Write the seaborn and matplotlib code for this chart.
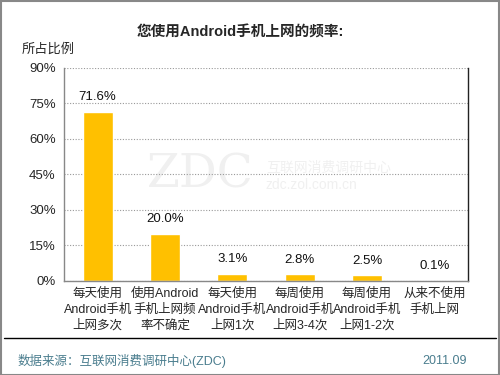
import matplotlib
matplotlib.use("Agg")
import matplotlib.pyplot as plt
import seaborn as sns
import pandas as pd
from matplotlib.patches import Rectangle
from matplotlib.lines import Line2D
from matplotlib.ticker import FixedLocator

# data
categories = ["每天使用\nAndroid手机\n上网多次", "使用Android\n手机上网频\n率不确定", "每天使用\nAndroid手机\n上网1次",
              "每周使用\nAndroid手机\n上网3-4次", "每周使用\nAndroid手机\n上网1-2次", "从来不使用\n手机上网\n "]
values = [71.6, 20.0, 3.1, 2.8, 2.5, 0.1]
yticks = [0, 15, 30, 45, 60, 75, 90]

df = pd.DataFrame({"cat": categories, "val": values})

sns.set_style("white")
plt.rcParams["font.family"] = ["Liberation Sans", "Noto Sans CJK SC", "DejaVu Sans"]

fig = plt.figure(figsize=(5, 3.75), dpi=100)
ax = fig.add_axes([0.128, 0.2507, 0.808, 0.568])

sns.barplot(data=df, x="cat", y="val", color="#FFC000", saturation=1, width=0.45, ax=ax)

ax.set_ylim(0, 90)
ax.set_xlim(-0.5, len(categories) - 0.5)
ax.set_yticks(yticks)
ax.set_yticklabels([f"{t}%" for t in yticks], fontsize=9.5)
ax.tick_params(axis="y", length=2, color="#888888", pad=4)
ax.yaxis.grid(True, linestyle=(0, (1, 1.5)), color="#999999", linewidth=0.8)
ax.set_axisbelow(True)

ax.set_xticks(range(len(categories)))
ax.set_xticklabels(categories, fontsize=9, linespacing=1.4)
ax.tick_params(axis="x", which="major", length=0, pad=5)
ax.xaxis.set_minor_locator(FixedLocator([i + 0.5 for i in range(-1, len(categories))]))
ax.tick_params(axis="x", which="minor", length=4, color="#888888", direction="out")
ax.set_xlabel("")
ax.set_ylabel("")

for s in ["left", "bottom"]:
    ax.spines[s].set_color("#888888")
    ax.spines[s].set_linewidth(1)
ax.spines["right"].set_color("#222222")
ax.spines["right"].set_linewidth(1)
ax.spines["top"].set_visible(False)

for i, v in enumerate(values):
    ax.annotate(f"{v:.1f}%", (i, v), xytext=(0, 6), textcoords="offset points",
                ha="center", va="bottom", fontsize=9.5, color="#111111")

# faint watermark
ax.text(0.47, 0.5, "ZDC", transform=ax.transAxes, fontsize=34, color="#f0f0f0",
        ha="right", va="center", family="DejaVu Serif", zorder=0)
ax.text(0.5, 0.53, "互联网消费调研中心", transform=ax.transAxes, fontsize=10, color="#f0f0f0",
        ha="left", va="center", zorder=0)
ax.text(0.5, 0.45, "zdc.zol.com.cn", transform=ax.transAxes, fontsize=10, color="#f0f0f0",
        ha="left", va="center", zorder=0)

fig.text(0.48, 0.912, "您使用Android手机上网的频率:", ha="center", va="center",
         fontsize=10.5, fontweight="bold")
fig.text(0.044, 0.867, "所占比例", ha="left", va="center", fontsize=9.5)

fig.add_artist(Line2D([0.008, 0.992], [1 - 338 / 375] * 2, transform=fig.transFigure,
                      color="black", linewidth=1))
fig.text(0.036, 1 - 361 / 375, "数据来源：互联网消费调研中心(ZDC)", ha="left", va="center",
         fontsize=9, color="#4a7d8e")
fig.text(0.934, 1 - 361 / 375, "2011.09", ha="right", va="center", fontsize=9, color="#4a7d8e")

fig.add_artist(Rectangle((0.001, 0.001), 0.996, 0.996, transform=fig.transFigure,
                         fill=False, edgecolor="#888888", linewidth=1.5))

fig.savefig("out.png", dpi=100)
